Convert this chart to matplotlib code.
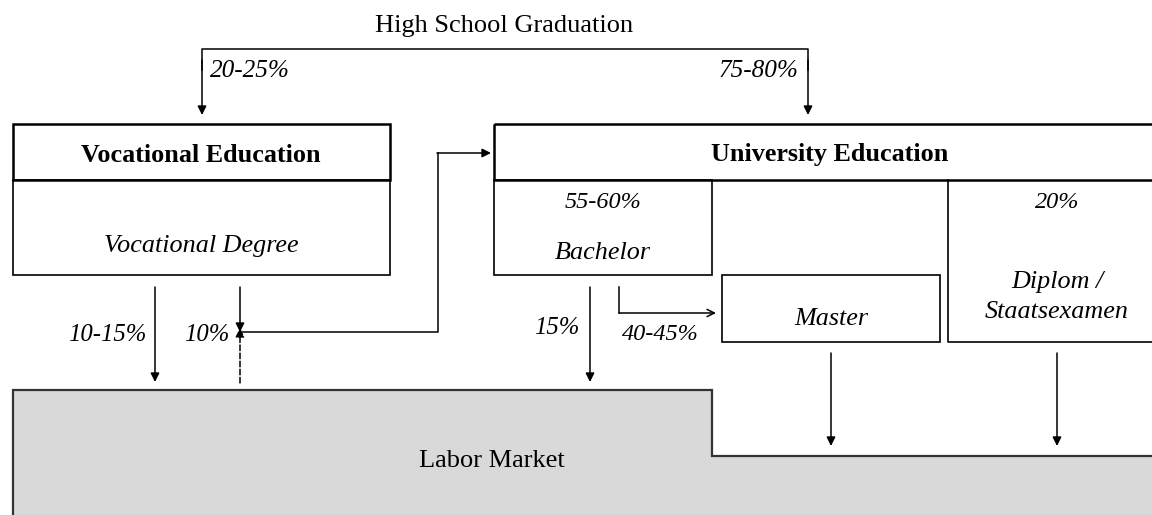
import matplotlib.pyplot as plt
from matplotlib.patches import Rectangle, Polygon

# labels and shares shown in the diagram
top_label = 'High School Graduation'
split_shares = ['20-25%', '75-80%']
header_labels = ['Vocational Education', 'University Education']
degree_labels = ['Vocational Degree', 'Bachelor', 'Master', 'Diplom /\nStaatsexamen']
uni_shares = ['55-60%', '20%']
exit_shares = ['10-15%', '10%', '15%', '40-45%']
market_label = 'Labor Market'

plt.rcParams['font.family'] = ['Liberation Serif', 'DejaVu Serif']

fig = plt.figure(figsize=(11.52, 5.15), dpi=100)
ax = fig.add_axes([0, 0, 1, 1])
ax.set_xlim(0, 1152)
ax.set_ylim(515, 0)
ax.axis('off')

K = 'black'


def arrow(x0, y0, x1, y1, style='-|>', ls='-'):
    ax.annotate('', xy=(x1, y1), xytext=(x0, y0),
                arrowprops=dict(arrowstyle=style, color=K, lw=1.1, linestyle=ls,
                                mutation_scale=13, shrinkA=0, shrinkB=0))


def box(x, y, w, h, lw=1.2):
    ax.add_patch(Rectangle((x, y), w, h, fill=False, ec=K, lw=lw))


# labor market
ax.add_patch(Polygon([(13, 520), (13, 390), (712, 390), (712, 456), (1160, 456), (1160, 520)],
                     closed=True, fc='#d9d9d9', ec='#333333', lw=1.6))
ax.text(492, 461, market_label, ha='center', va='center', fontsize=19)

# high school split
ax.text(504, 26, top_label, ha='center', va='center', fontsize=19)
ax.plot([202, 202, 808, 808], [70, 49, 49, 70], color=K, lw=1.1)
arrow(202, 60, 202, 115)
arrow(808, 60, 808, 115)
ax.text(210, 71, split_shares[0], ha='left', va='center', fontsize=18.2, style='italic')
ax.text(798, 71, split_shares[1], ha='right', va='center', fontsize=18.2, style='italic')

# vocational block
box(13, 124, 377, 56, lw=1.8)
box(13, 180, 377, 95)
ax.text(201, 155, header_labels[0], ha='center', va='center', fontsize=18.8, weight='bold')
ax.text(201, 246, degree_labels[0], ha='center', va='center', fontsize=18.8, style='italic')

# university block
box(494, 124, 680, 56, lw=1.8)
ax.text(830, 155, header_labels[1], ha='center', va='center', fontsize=18.8, weight='bold')
box(494, 180, 218, 95)
ax.plot([948, 948, 1160], [180, 342, 342], color=K, lw=1.2)
box(722, 275, 218, 67)
ax.text(603, 203, uni_shares[0], ha='center', va='center', fontsize=17.5, style='italic')
ax.text(603, 253, degree_labels[1], ha='center', va='center', fontsize=18.8, style='italic')
ax.text(831, 319, degree_labels[2], ha='center', va='center', fontsize=18.8, style='italic')
ax.text(1057, 203, uni_shares[1], ha='center', va='center', fontsize=17.5, style='italic')
ax.text(1057, 297, degree_labels[3], ha='center', va='center', fontsize=18.8, style='italic',
        linespacing=1.45)

# flows out of vocational
arrow(155, 287, 155, 382)
ax.text(146, 335, exit_shares[0], ha='right', va='center', fontsize=17.8, style='italic')
arrow(240, 287, 240, 332)
arrow(240, 383, 240, 328, ls='--')
ax.plot([240, 438, 438], [332, 332, 153], color=K, lw=1.1)
arrow(437, 153, 491, 153)
ax.text(229, 335, exit_shares[1], ha='right', va='center', fontsize=17.8, style='italic')

# flows out of bachelor
arrow(590, 287, 590, 382)
ax.text(579, 328, exit_shares[2], ha='right', va='center', fontsize=17.8, style='italic')
ax.plot([619, 619], [287, 313], color=K, lw=1.1)
arrow(619, 313, 716, 313, style='->')
ax.text(660, 334, exit_shares[3], ha='center', va='center', fontsize=17.5, style='italic')

# flows out of master / diplom
arrow(831, 353, 831, 446)
arrow(1057, 353, 1057, 446)

fig.savefig('out.png', dpi=100)
